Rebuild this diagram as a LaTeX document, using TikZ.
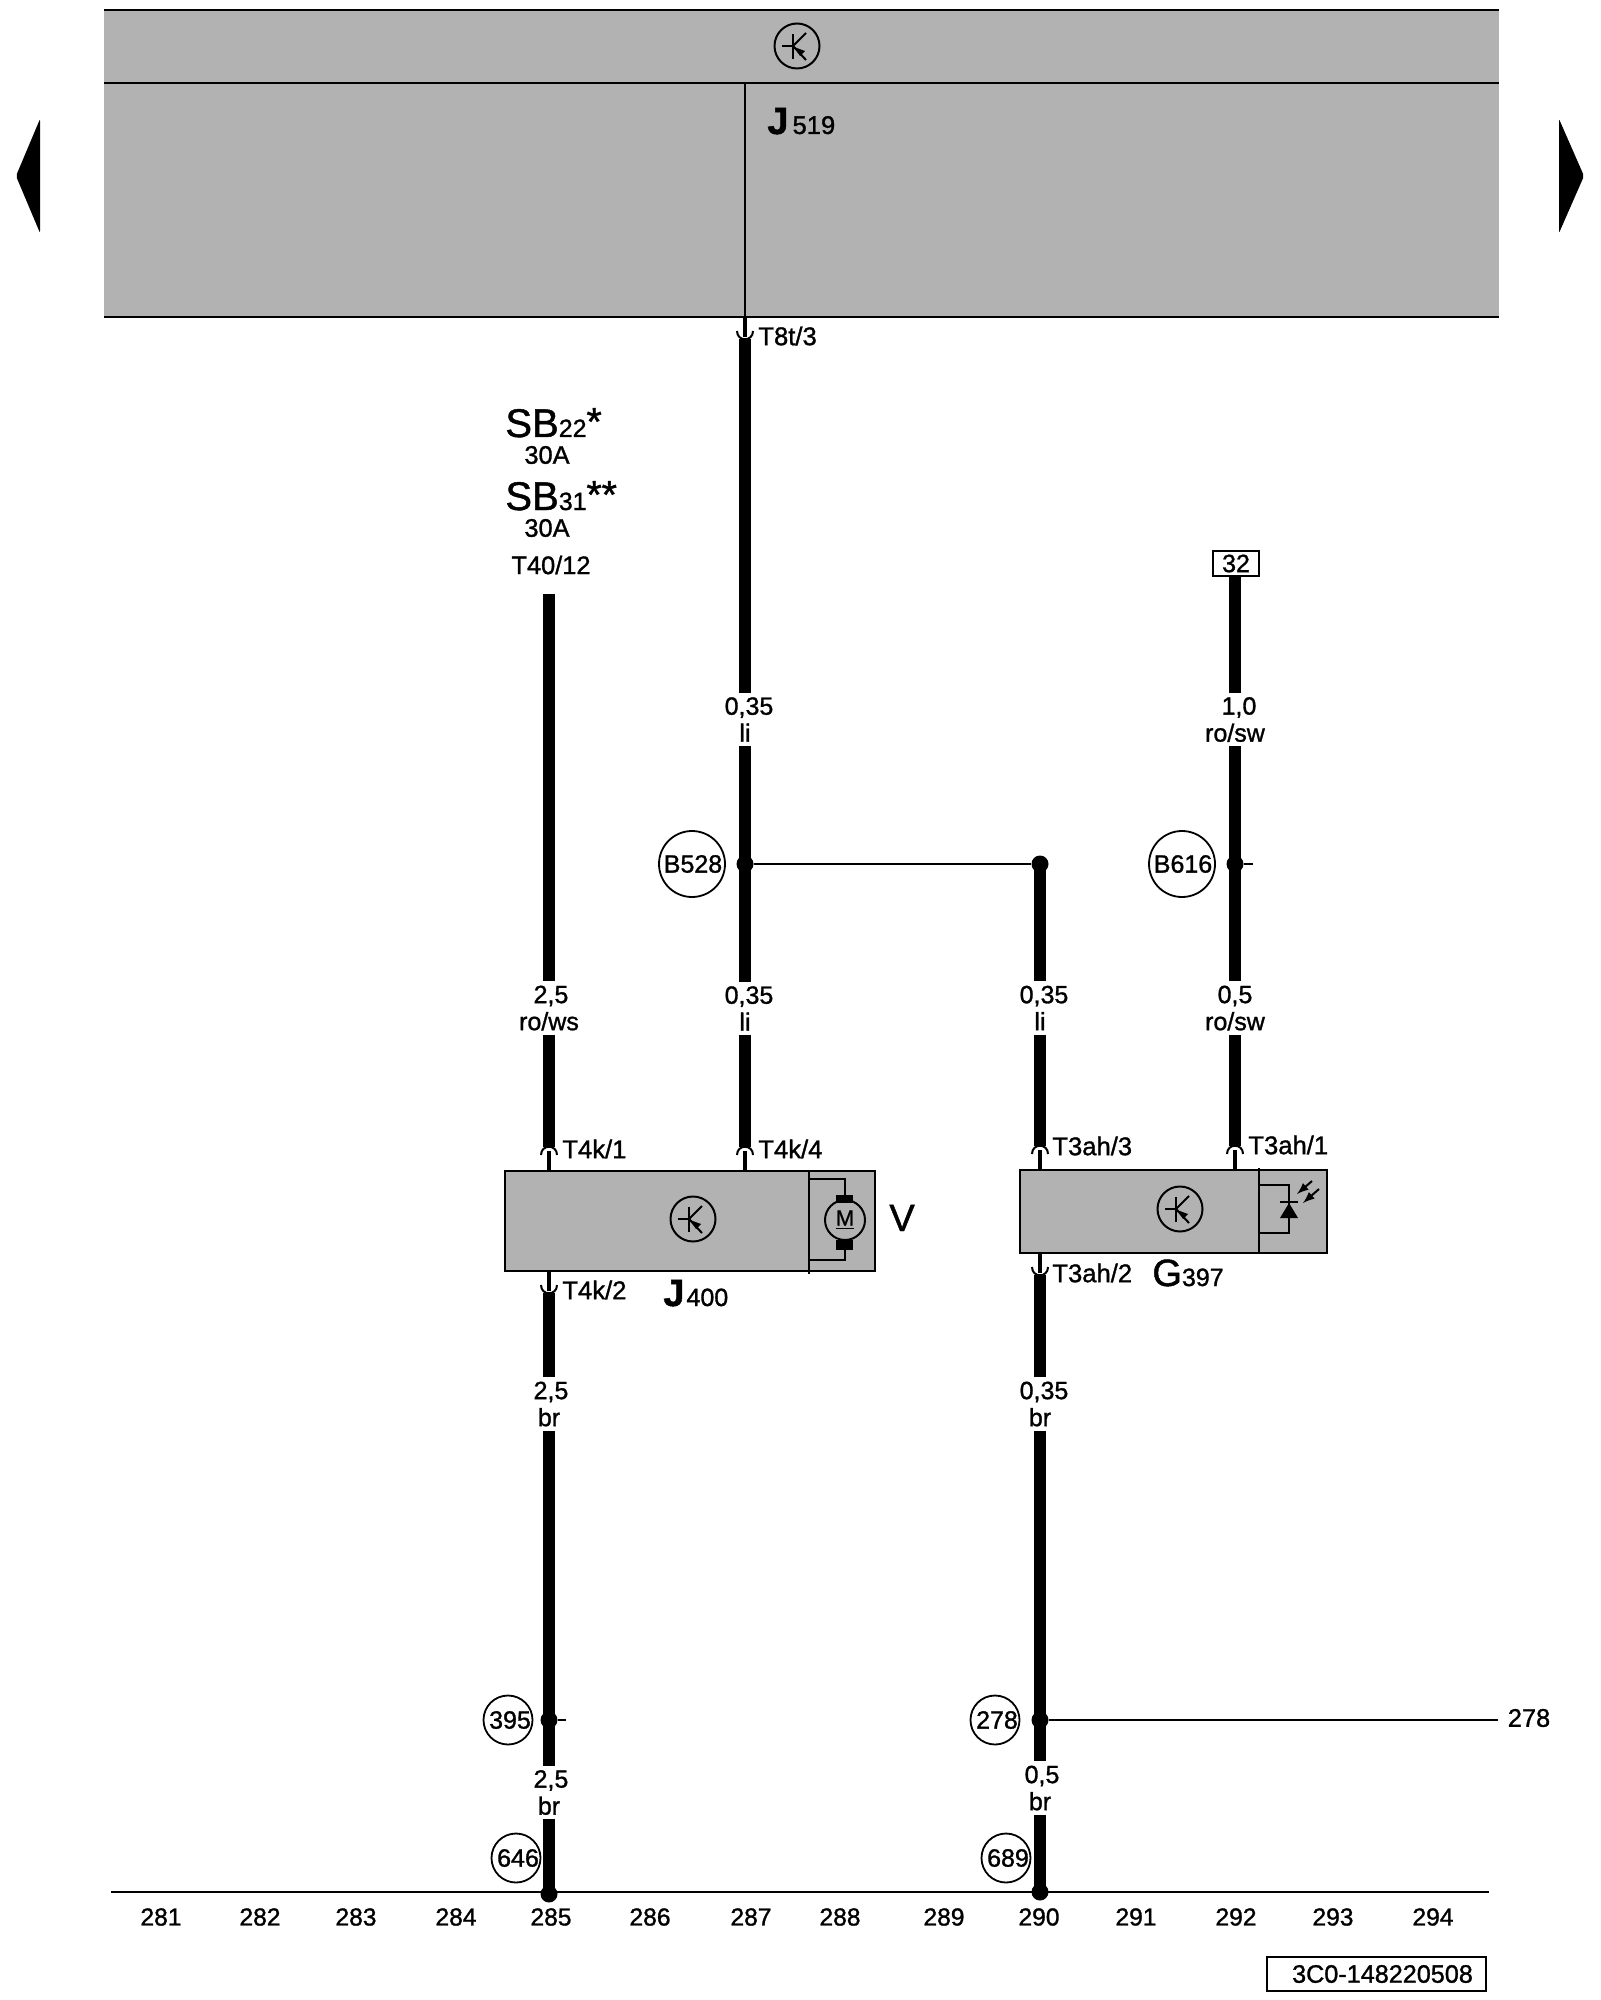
\documentclass[tikz,border=0pt]{standalone}
\usepackage{fontspec}
\setmainfont{Liberation Sans}[FakeBold=1.2]
\usetikzlibrary{calc}
\definecolor{boxgrey}{gray}{0.70}
\tikzset{
    thinline/.style={line width=1pt,black},
    wire/.style={line width=5.8pt,black},
    pin/.style={line width=2pt,black},
    ctrlbox/.style={draw=black,line width=1pt,fill=boxgrey,inner sep=0pt},
    wirelab/.style={inner sep=0pt,minimum height=26.5pt,align=center,font=\fontsize{12.5}{13.5}\selectfont},
    termlab/.style={inner sep=0pt,anchor=west,font=\fontsize{12.8}{14}\selectfont},
    trackno/.style={inner sep=0pt,font=\fontsize{12.3}{14}\selectfont},
    refcirc/.style={circle,draw=black,line width=0.9pt,inner sep=0pt,minimum size=24.5pt,font=\fontsize{12.5}{14}\selectfont},
    dot/.style={circle,fill=black,inner sep=0pt,minimum size=8.5pt},
    partlab/.style={inner sep=0pt,anchor=base west},
    smalllab/.style={inner sep=0pt,font=\fontsize{12.7}{14}\selectfont},
}
\def\partname#1#2{{\fontsize{19}{19}\selectfont #1}{\fontsize{12.5}{12.5}\selectfont #2}}
\def\ns{\hspace*{4pt}}
\def\nt{\hspace*{2pt}}
\def\transistor#1(#2){
    \node[circle,draw=black,line width=1pt,inner sep=0pt,minimum size=22.5pt] (#1) at (#2) {};
    \begin{scope}[shift={(#2)}]
        \draw[thinline] (-15,0)--(-4,0);
        \draw[thinline] (-4,-12)--(-4,13);
        \draw[thinline] (-4,0)--(9,-13);
        \draw[thinline] (-4,0)--(9,14);
        \fill[black] (-3,1)--(8,5)--(3,10)--cycle;
    \end{scope}
}
\def\pinup(#1)(#2){
    \draw[pin] (#1)--($(#1)+(0,-20)$);
    \draw[thinline] ($(#1)+(-8,-16)$) .. controls ($(#1)+(-8,-27)$) and ($(#1)+(8,-27)$) .. ($(#1)+(8,-16)$);
    \coordinate (#2) at ($(#1)+(0,-24)$);
}
\def\pindown(#1)(#2){
    \draw[pin] (#1)--($(#1)+(0,20)$);
    \draw[thinline] ($(#1)+(-8,14)$) .. controls ($(#1)+(-8,25)$) and ($(#1)+(8,25)$) .. ($(#1)+(8,14)$);
    \coordinate (#2) at ($(#1)+(0,22)$);
}
\begin{document}
\begin{tikzpicture}[x=0.5pt,y=-0.5pt]
    \useasboundingbox (0,0) rectangle (1600,2000);

    % central unit
    \fill[boxgrey] (104,10) rectangle (1499,317);
    \draw[thinline] (104,10)--(1499,10);
    \draw[thinline] (104,83)--(1499,83);
    \draw[thinline] (104,317)--(1499,317);
    \transistor{tr519}(797,46)
    \node[partlab] (j519) at (767,134) {{\fontsize{19}{19}\selectfont\bfseries J}\kern2pt{\fontsize{12.8}{12}\selectfont 519}};
    \coordinate (t8ttop) at (745,83);
    \coordinate (t8t) at (745,317);
    \draw[line width=1.3pt] (t8ttop)--(t8t);
    \pindown(t8t)(w2top)
    \node[termlab] (t8tlab) at (758,336) {T8t/3};

    % page arrows
    \fill[black,rounded corners=1pt] (40,119)--(40,233)--(16,176)--cycle;
    \fill[black,rounded corners=1pt] (1559,119)--(1559,233)--(1584,176)--cycle;

    % fuse
    \node[partlab] (sb22) at (505,437) {\fontsize{20}{20}\selectfont SB\fontsize{12.5}{12.5}\selectfont 22\raisebox{1pt}{\fontsize{19.5}{19.5}\selectfont *}};
    \node[smalllab] (a22) at (547,455) {30A};
    \node[partlab] (sb31) at (505,510) {\fontsize{20}{20}\selectfont SB\fontsize{12.5}{12.5}\selectfont 31\raisebox{1pt}{\fontsize{19.5}{19.5}\selectfont **}};
    \node[smalllab] (a31) at (547,528) {30A};
    \node[smalllab] (t40) at (551,565) {T40/12};

    % J400 with motor
    \node[ctrlbox,minimum width=185pt,minimum height=50pt] (j400) at (690,1221) {};
    \transistor{tr400}(693,1219)
    \draw[thinline] (809,1171)--(809,1274);
    \node[circle,draw=black,line width=1pt,inner sep=0pt,minimum size=20pt,font=\fontsize{11}{11}\selectfont] (motor) at (845,1220) {\underline{M}};
    \draw[thinline] (809,1179)-|(845,1196);
    \draw[thinline] (809,1260)-|(845,1250);
    \fill[black] (836,1195) rectangle (853,1203);
    \fill[black] (836,1240) rectangle (853,1250);
    \node[partlab,font=\fontsize{19}{19}\selectfont] (v) at (889,1231) {V};
    \node[partlab] (j400lab) at (663,1306) {\partname{\bfseries J}{\kern1pt400}};
    \coordinate (tk41) at (549,1171);
    \coordinate (tk44) at (745,1171);
    \coordinate (tk42) at (549,1271);
    \pinup(tk41)(w1mid)
    \pinup(tk44)(w2bot)
    \pindown(tk42)(w1low)
    \node[termlab] (tk41lab) at (562,1149) {T4k/1};
    \node[termlab] (tk44lab) at (758,1149) {T4k/4};
    \node[termlab] (tk42lab) at (562,1290) {T4k/2};

    % G397 with sensor
    \node[ctrlbox,minimum width=153.5pt,minimum height=41.5pt] (g397) at (1173.5,1211.5) {};
    \transistor{tr397}(1180,1209)
    \draw[thinline] (1259,1168)--(1259,1253);
    \draw[thinline] (1259,1185)-|(1289,1233)--(1259,1233);
    \fill[black] (1289,1203)--(1298,1218)--(1280,1218)--cycle;
    \draw[thinline] (1280,1202)--(1298,1202);
    \draw[thinline,-latex] (1312,1181)--(1297,1194);
    \draw[thinline,-latex] (1319,1189)--(1303,1203);
    \node[partlab] (g397lab) at (1152,1286) {\partname{G}{397}};
    \coordinate (t3a3) at (1040,1170);
    \coordinate (t3a1) at (1235,1170);
    \coordinate (t3a2) at (1040,1253);
    \pinup(t3a3)(w3mid)
    \pinup(t3a1)(w4bot)
    \pindown(t3a2)(w3low)
    \node[termlab] (t3a3lab) at (1052,1146) {T3ah/3};
    \node[termlab] (t3a1lab) at (1248,1145) {T3ah/1};
    \node[termlab] (t3a2lab) at (1052,1273) {T3ah/2};

    % terminal 32
    \node[draw=black,line width=1pt,inner sep=0pt,minimum width=23pt,minimum height=12.5pt,font=\fontsize{12.5}{12.5}\selectfont] (b32) at (1236,563.5) {32};

    % wire labels
    \node[wirelab] (w2a) at (745,719.5) {\ns 0,35\\li};
    \node[wirelab] (w2b) at (745,1008.5) {\ns 0,35\\li};
    \node[wirelab] (w1a) at (549,1008) {\nt 2,5\\ro/ws};
    \node[wirelab] (w1b) at (549,1404) {\nt 2,5\\br};
    \node[wirelab] (w1c) at (549,1792.5) {\nt 2,5\\br};
    \node[wirelab] (w3a) at (1040,1008) {\ns 0,35\\li};
    \node[wirelab] (w3b) at (1040,1404) {\ns 0,35\\br};
    \node[wirelab] (w3c) at (1040,1788) {\nt 0,5\\br};
    \node[wirelab] (w4a) at (1235,719.5) {\ns 1,0\\ro/sw};
    \node[wirelab] (w4b) at (1235,1008) {0,5\\ro/sw};

    % junctions
    \node[dot] (jb528) at (745,864) {};
    \node[dot] (jend) at (1040,864) {};
    \node[dot] (jb616) at (1235,864) {};
    \node[dot] (j395) at (549,1720) {};
    \node[dot] (j278) at (1040,1720) {};
    \node[dot] (jg1) at (549,1894) {};
    \node[dot] (jg2) at (1040,1892) {};
    \coordinate (w1top) at (549,594);
    \coordinate (s395) at (566,1720);
    \coordinate (s616) at (1253,864);
    \coordinate (e278) at (1498,1720);
    \node[smalllab] (l278) at (1529,1718) {278};

    % ref circles
    \node[refcirc,minimum size=33pt] (b528) at (692,864) {\hspace*{1pt}B528};
    \node[refcirc,minimum size=33pt] (b616) at (1182,864) {\hspace*{1pt}B616};
    \node[refcirc] at (508,1720) (c395) {\hspace*{2pt}395};
    \node[refcirc] at (995,1720) (c278) {\hspace*{2pt}278};
    \node[refcirc] at (516,1858) (c646) {\hspace*{2pt}646};
    \node[refcirc] at (1006,1858) (c689) {\hspace*{2pt}689};

    % wires
    \draw[wire] (w1top)--(w1a);
    \draw[wire] (w1a)--(w1mid);
    \draw[wire] (w1low)--(w1b);
    \draw[wire] (w1b)--(j395.center);
    \draw[wire] (j395.center)--(w1c);
    \draw[wire] (w1c)--(jg1.center);
    \draw[wire] (w2top)--(w2a);
    \draw[wire] (w2a)--(jb528.center);
    \draw[wire] (jb528.center)--(w2b);
    \draw[wire] (w2b)--(w2bot);
    \draw[wire] (jend.center)--(w3a);
    \draw[wire] (w3a)--(w3mid);
    \draw[wire] (w3low)--(w3b);
    \draw[wire] (w3b)--(j278.center);
    \draw[wire] (j278.center)--(w3c);
    \draw[wire] (w3c)--(jg2.center);
    \draw[wire] (b32.south-|w4a)--(w4a);
    \draw[wire] (w4a)--(jb616.center);
    \draw[wire] (jb616.center)--(w4b);
    \draw[wire] (w4b)--(w4bot);
    \draw[thinline] (jb528)--(jend);
    \draw[thinline] (jb616)--(s616);
    \draw[thinline] (j395)--(s395);
    \draw[thinline] (j278)--(e278);

    % baseline and track numbers
    \draw[thinline] (111,1892)--(1489,1892);
    \foreach \tx/\tn in {161/281,260/282,356/283,456/284,551/285,650/286,751/287,840/288,944/289,1039/290,1136/291,1236/292,1333/293,1433/294}
        \node[trackno] (n\tn) at (\tx,1917) {\tn};

    \node[draw=black,line width=1pt,inner sep=0pt,minimum width=109.5pt,minimum height=17pt,font=\fontsize{12.6}{14}\selectfont] (docno) at (1376.5,1974) {\hspace*{6pt}3C0-148220508};
\end{tikzpicture}
\end{document}
